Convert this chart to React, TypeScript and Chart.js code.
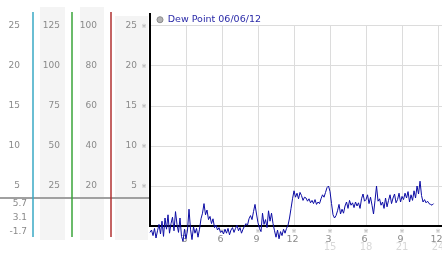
import React, { useEffect, useRef } from 'react';
import { Chart, registerables } from 'chart.js';

Chart.register(...registerables);

// ---- data ----
const legendLabel = 'Dew Point 06/06/12';
const stepHours = 0.125; // one reading every 7.5 minutes
const dewPoint = [
  -0.8, -0.5, -1.2, -0.3, -1.5, -0.6, 0.2, -1.0,
  0.6, -1.3, 1.0, -0.4, 1.4, -0.9, 0.3, 1.1,
  -0.6, 1.8, 0.2, -0.8, 1.0, -1.3, -1.9, -0.4,
  -1.6, -0.5, 2.1, -0.4, -1.7, -0.1, -0.9, -0.3,
  -1.4, -0.4, 0.9, 1.6, 2.8, 1.4, 2.0, 0.8,
  1.2, 0.3, 0.9, -0.2, 0.1, -0.5, -0.2, -0.8,
  -0.6, -1.0, -0.4, -0.9, -0.3, -1.1, -0.5, -0.2,
  -0.8, -0.3, 0.1, -0.6, -0.2, -0.9, -0.4, 0.0,
  0.3, 0.1, 0.9, 1.3, 0.8, 1.8, 2.7, 1.5,
  0.4, -0.3, -0.7, 1.6, 0.2, 0.8, -0.2, 1.9,
  0.6, 1.6, 0.3, -0.6, -1.4, -0.5, -1.6, -0.7,
  -1.2, -0.4, -0.9, -0.3, 0.1, 1.0, 2.2, 3.4,
  4.4, 3.6, 4.1, 3.4, 4.2, 3.8, 3.2, 3.6,
  3.5, 3.1, 3.4, 2.9, 3.2, 2.8, 3.3, 2.7,
  3.0, 2.8, 3.4, 3.9, 3.6, 4.2, 4.8, 5.0,
  4.3, 2.8, 1.4, 1.0, 1.3, 1.9, 2.7, 1.5,
  2.1, 1.6, 2.5, 3.0, 2.2, 3.2, 2.6, 2.9,
  2.3, 3.0, 2.5, 2.9, 2.2, 3.4, 4.0, 3.1,
  3.3, 3.9, 2.8, 3.6, 2.6, 1.5, 3.2, 5.0,
  3.1, 3.4, 2.6, 3.0, 2.2, 3.5, 2.4, 3.2,
  3.9, 2.8, 3.5, 4.0, 2.9, 3.3, 4.1, 3.0,
  3.7, 3.3, 4.1, 3.5, 4.3, 3.0, 3.9, 3.2,
  4.4, 3.5, 5.0, 4.0, 5.6, 3.8, 3.0, 3.3,
  2.9, 3.1, 2.8, 2.7, 2.6, 2.8,
];

const xTicks = [0, 3, 6, 9, 12, 15, 18, 21, 24];
const xLabels = ['', '3', '6', '9', '12', '3', '6', '9', '12'];
const xLabels2 = ['', '', '', '', '', '15', '18', '21', '24'];
const yTicks = [5, 10, 15, 20, 25];
const redTicks = [20, 40, 60, 80, 100];
const greenTicks = [25, 50, 75, 100, 125];
const statLabels = ['5.7', '3.1', '-1.7'];
const statLine = 3.5;
const xMax = 24.33;
const yMax = 26.5;

const FONT = '"DejaVu Sans", Verdana, sans-serif';
const TICK_COLOR = '#8a8a8a';

const fixedTicks = (vals: number[]) => (s: any) => {
  s.ticks = vals.map((v) => ({ value: v }));
};
const fitWidth = (w: number) => (s: any) => {
  s.width = w;
  s.paddingTop = 0;
  s.paddingBottom = 0;
};

const decor = {
  id: 'decor',
  afterLayout(chart: any) {
    if (chart.legend) chart.legend.top = chart.chartArea.top - 6;
  },
  beforeDraw(chart: any) {
    const { ctx, chartArea: ca, scales } = chart;
    const m = scales.y, r = scales.yRed, g = scales.yGreen, t = scales.yTeal;
    ctx.save();
    ctx.fillStyle = '#f4f4f4';
    const bot = ca.bottom + 14;
    ctx.fillRect(g.left + 7, ca.top - 7, g.width - 14, bot - (ca.top - 7));
    ctx.fillRect(r.left + 8, ca.top - 7, r.width - 15, bot - (ca.top - 7));
    ctx.fillRect(m.left + 4, ca.top + 2, m.width - 6, bot - (ca.top + 2));
    // stat reference line
    const yy = Math.round(m.getPixelForValue(statLine));
    ctx.strokeStyle = '#a0a0a0';
    ctx.lineWidth = 2;
    ctx.beginPath();
    ctx.moveTo(0, yy);
    ctx.lineTo(m.right - 1, yy);
    ctx.stroke();
    // coloured axis lines
    const cols: [any, string][] = [[t, '#39a9c4'], [g, '#3aa53a'], [r, '#b03030']];
    ctx.lineWidth = 1.5;
    cols.forEach(([s, c]) => {
      ctx.strokeStyle = c;
      ctx.beginPath();
      ctx.moveTo(s.right, ca.top - 2);
      ctx.lineTo(s.right, ca.bottom + 11);
      ctx.stroke();
    });
    // stat labels
    ctx.font = '9px ' + FONT;
    ctx.fillStyle = TICK_COLOR;
    ctx.textAlign = 'right';
    ctx.textBaseline = 'middle';
    statLabels.forEach((txt, i) => ctx.fillText(txt, t.right - 6, ca.bottom - 22 + i * 14));
    ctx.restore();
  },
  beforeDatasetsDraw(chart: any) {
    const { ctx, chartArea: ca, scales } = chart;
    const x = scales.x, m = scales.y;
    ctx.save();
    // vertical grid lines
    ctx.strokeStyle = '#dcdcdc';
    ctx.lineWidth = 1;
    const top = m.getPixelForValue(25) - 1;
    xTicks.forEach((v) => {
      if (v === 0) return;
      const px = Math.round(x.getPixelForValue(v)) + 0.5;
      ctx.beginPath();
      ctx.moveTo(px, top);
      ctx.lineTo(px, ca.bottom - 1);
      ctx.stroke();
    });
    // small marks
    ctx.fillStyle = '#a8a8a8';
    ctx.font = '6px ' + FONT;
    ctx.textAlign = 'center';
    ctx.textBaseline = 'middle';
    xTicks.forEach((v) => {
      if (v === 0) return;
      ctx.fillText('※', x.getPixelForValue(v), ca.bottom + 5);
    });
    yTicks.forEach((v) => {
      ctx.fillText('※', m.right - 6, m.getPixelForValue(v));
    });
    // second row of hour labels
    ctx.fillStyle = '#d8d8d8';
    ctx.font = '10px ' + FONT;
    ctx.textBaseline = 'middle';
    xTicks.forEach((v, i) => {
      if (xLabels2[i]) ctx.fillText(xLabels2[i], x.getPixelForValue(v), ca.bottom + 21);
    });
    ctx.restore();
  },
};

export default function App() {
  const ref = useRef<HTMLCanvasElement>(null);
  useEffect(() => {
    document.body.style.margin = '0';
    if (!ref.current) return;
    const chart = new Chart(ref.current, {
      type: 'line',
      data: {
        datasets: [
          {
            label: legendLabel,
            data: dewPoint.map((v, i) => ({ x: i * stepHours, y: v })),
            borderColor: '#0c0ca4',
            borderWidth: 1,
            pointRadius: 0,
            tension: 0,
            clip: false as any,
            xAxisID: 'x',
            yAxisID: 'y',
          },
        ],
      },
      options: {
        animation: false,
        responsive: false,
        maintainAspectRatio: false,
        events: [],
        layout: { padding: { top: 14, left: 0, right: 0, bottom: 0 } },
        plugins: {
          tooltip: { enabled: false },
          legend: {
            position: 'chartArea' as any,
            align: 'start',
            labels: {
              usePointStyle: true,
              boxWidth: 6,
              boxHeight: 4.3,
              padding: 7,
              color: '#2a2aa8',
              font: { family: FONT, size: 9.5 },
              generateLabels: () => [
                {
                  text: legendLabel,
                  fillStyle: '#b4b4b4',
                  strokeStyle: '#8c8c8c',
                  lineWidth: 1,
                  pointStyle: 'circle',
                  hidden: false,
                  datasetIndex: 0,
                  fontColor: '#2a2aa8',
                } as any,
              ],
            },
          },
        },
        scales: {
          x: {
            type: 'linear',
            position: 'bottom',
            min: 0,
            max: xMax,
            afterBuildTicks: fixedTicks(xTicks),
            afterFit: (s: any) => {
              s.height = 27;
              s.paddingLeft = 0;
              s.paddingRight = 0;
            },
            grid: { display: false, drawTicks: false },
            border: { display: true, color: '#000', width: 2 },
            ticks: {
              autoSkip: false,
              maxRotation: 0,
              padding: 8,
              labelOffset: -1.5,
              color: TICK_COLOR,
              font: { family: FONT, size: 9.5 },
              callback: (_v: any, i: number) => xLabels[i] ?? '',
            },
          },
          y: {
            type: 'linear',
            position: 'left',
            weight: 0,
            min: 0,
            max: yMax,
            afterBuildTicks: fixedTicks(yTicks),
            afterFit: fitWidth(39),
            grid: { color: '#dcdcdc', drawTicks: false },
            border: { display: true, color: '#000', width: 2 },
            ticks: { padding: 13, color: TICK_COLOR, font: { family: FONT, size: 9 } },
          },
          yRed: {
            type: 'linear',
            position: 'left',
            display: true,
            weight: 1,
            min: 0,
            max: yMax * 4,
            afterBuildTicks: fixedTicks(redTicks),
            afterFit: fitWidth(39),
            grid: { display: false, drawTicks: false },
            border: { display: false },
            ticks: { padding: 14, color: TICK_COLOR, font: { family: FONT, size: 9 } },
          },
          yGreen: {
            type: 'linear',
            position: 'left',
            display: true,
            weight: 2,
            min: 0,
            max: yMax * 5,
            afterBuildTicks: fixedTicks(greenTicks),
            afterFit: fitWidth(39),
            grid: { display: false, drawTicks: false },
            border: { display: false },
            ticks: { padding: 12, color: TICK_COLOR, font: { family: FONT, size: 9 } },
          },
          yTeal: {
            type: 'linear',
            position: 'left',
            display: true,
            weight: 3,
            min: 0,
            max: yMax,
            afterBuildTicks: fixedTicks(yTicks),
            afterFit: fitWidth(33),
            grid: { display: false, drawTicks: false },
            border: { display: false },
            ticks: { padding: 13, color: TICK_COLOR, font: { family: FONT, size: 9 } },
          },
        } as any,
      },
      plugins: [decor],
    });
    return () => chart.destroy();
  }, []);
  return (
    <canvas
      ref={ref}
      width={442}
      height={253}
      style={{ display: 'block', width: 442, height: 253 }}
    />
  );
}
